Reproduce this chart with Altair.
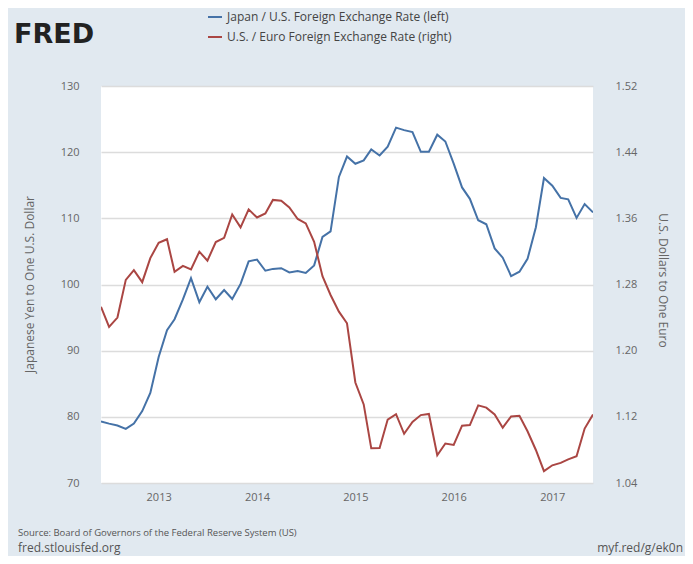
import altair as alt
import pandas as pd

months = pd.date_range("2012-06-01", "2017-06-01", freq="MS").strftime("%Y-%m-%d").tolist()

jpy_usd = [79.3, 78.97, 78.68, 78.17, 78.97, 80.87, 83.6,
           89.05, 93.08, 94.75, 97.74, 100.96, 97.33, 99.66, 97.77, 99.16, 97.81, 100.09, 103.5,
           103.77, 102.08, 102.36, 102.47, 101.82, 102.05, 101.74, 102.89, 107.19, 108.02, 116.26, 119.34,
           118.25, 118.76, 120.4, 119.5, 120.84, 123.71, 123.33, 123.03, 120.06, 120.06, 122.64, 121.61,
           118.26, 114.67, 112.95, 109.71, 109.1, 105.46, 104.05, 101.27, 101.94, 103.87, 108.65, 116.09,
           114.92, 113.09, 112.88, 110.06, 112.15, 110.9]

usd_eur = [1.2530, 1.2288, 1.2400, 1.2856, 1.2974, 1.2828, 1.3119,
           1.3304, 1.3347, 1.2953, 1.3025, 1.2983, 1.3197, 1.3088, 1.3314, 1.3364, 1.3646, 1.3491, 1.3708,
           1.3610, 1.3659, 1.3823, 1.3813, 1.3732, 1.3592, 1.3539, 1.3316, 1.2901, 1.2673, 1.2472, 1.2331,
           1.1615, 1.1350, 1.0819, 1.0822, 1.1167, 1.1232, 1.0995, 1.1139, 1.1221, 1.1235, 1.0736, 1.0877,
           1.0860, 1.1093, 1.1100, 1.1339, 1.1311, 1.1229, 1.1069, 1.1205, 1.1212, 1.1026, 1.0799, 1.0543,
           1.0614, 1.0643, 1.0685, 1.0723, 1.1058, 1.1229]

year_ticks = ["2013-01-01", "2014-01-01", "2015-01-01", "2016-01-01", "2017-01-01"]
left_ticks = [70, 80, 90, 100, 110, 120, 130]
right_ticks = [1.04, 1.12, 1.20, 1.28, 1.36, 1.44, 1.52]

legend_labels = ["Japan / U.S. Foreign Exchange Rate (left)", "U.S. / Euro Foreign Exchange Rate (right)"]
colors = ["#4572a7", "#aa4643"]

df = pd.DataFrame({"date": months, "jpy": jpy_usd, "eur": usd_eur})

FONT = "Open Sans"
LBL = "#666666"
W, H = 492, 397

x_enc = alt.X("date:T", scale=alt.Scale(domain=[months[0], months[-1]]),
              axis=alt.Axis(values=year_ticks, format="%Y", title=None, grid=False,
                            ticks=False, domain=False, labelPadding=8,
                            labelFont=FONT, labelFontSize=11, labelColor=LBL))

base = alt.Chart(df)

blue = base.mark_line(color=colors[0], strokeWidth=2, clip=True).encode(
    x=x_enc,
    y=alt.Y("jpy:Q", scale=alt.Scale(domain=[70, 130], nice=False, zero=False),
            axis=alt.Axis(values=left_ticks, title="Japanese Yen to One U.S. Dollar",
                          orient="left", grid=True, gridColor="#dcdcdc", gridWidth=1.5,
                          ticks=False, domain=False, labelPadding=22,
                          labelFont=FONT, labelFontSize=11, labelColor=LBL,
                          titleFont=FONT, titleFontSize=12, titleFontWeight="normal",
                          titleColor=LBL, titleX=-72, titleY=198, titleAngle=270,
                          titleAlign="center", titleBaseline="middle")),
)

red = base.mark_line(color=colors[1], strokeWidth=2, clip=True).encode(
    x=alt.X("date:T"),
    y=alt.Y("eur:Q", scale=alt.Scale(domain=[1.04, 1.52], nice=False, zero=False),
            axis=alt.Axis(values=right_ticks, format=".2f", title="U.S. Dollars to One Euro",
                          orient="right", grid=False,
                          ticks=False, domain=False, labelPadding=22,
                          labelFont=FONT, labelFontSize=11, labelColor=LBL,
                          titleFont=FONT, titleFontSize=12, titleFontWeight="normal",
                          titleColor=LBL, titleX=69, titleY=194, titleAngle=90,
                          titleAlign="center", titleBaseline="middle")),
)

leg_df = pd.DataFrame({"label": legend_labels, "color": colors})
leg_df["y"] = [-69, -49]

leg_rule = alt.Chart(leg_df).mark_rule(strokeWidth=2).encode(
    x=alt.value(107), x2=alt.value(121),
    y=alt.Y("y:Q", scale=None),
    color=alt.Color("color:N", scale=None),
)
leg_text = alt.Chart(leg_df).mark_text(align="left", baseline="middle", font=FONT,
                                       fontSize=12, color="#444444").encode(
    x=alt.value(126), y=alt.Y("y:Q", scale=None), text="label:N",
)

source_df = pd.DataFrame({"t": ["Source: Board of Governors of the Federal Reserve System (US)"]})
site_df = pd.DataFrame({"t": ["fred.stlouisfed.org"]})
link_df = pd.DataFrame({"t": ["myf.red/g/ek0n"]})

foot1 = alt.Chart(source_df).mark_text(align="left", baseline="middle", font=FONT,
                                       fontSize=9.5, color="#555555").encode(
    x=alt.value(-83), y=alt.value(447), text="t:N")
foot2 = alt.Chart(site_df).mark_text(align="left", baseline="middle", font=FONT,
                                     fontSize=12, color="#555555").encode(
    x=alt.value(-83), y=alt.value(462), text="t:N")
foot3 = alt.Chart(link_df).mark_text(
    align="right", baseline="middle", font=FONT, fontSize=12, color="#555555").encode(
    x=alt.value(582), y=alt.value(462), text="t:N")

logo = alt.Chart(pd.DataFrame({"t": ["FRED"]})).mark_text(
    align="left", baseline="middle", font="DejaVu Sans", fontSize=27, fontWeight="bold",
    color="#222222").encode(x=alt.value(-87), y=alt.value(-51), text="t:N")

chart = alt.layer(blue, red).resolve_scale(y="independent")
chart = alt.layer(chart, leg_rule, leg_text, foot1, foot2, foot3, logo).properties(
    width=W, height=H,
    background="#e1e9f0",
    padding={"left": 93, "top": 78, "right": 92, "bottom": 73},
    autosize=alt.AutoSizeParams(type="none"),
).configure_view(fill="white", stroke=None)

chart.save("out.html", embed_options={"renderer": "svg", "actions": False})
